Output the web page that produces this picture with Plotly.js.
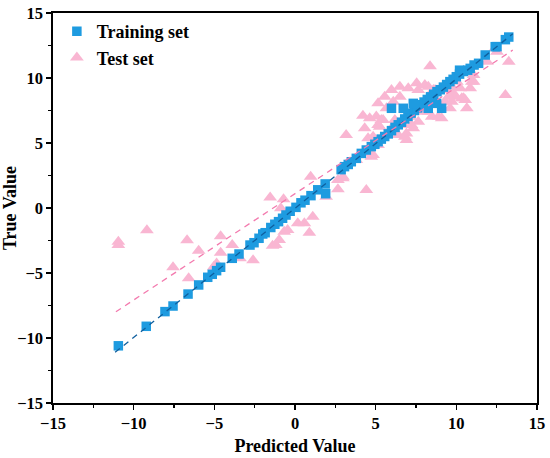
<!DOCTYPE html>
<html>
<head>
<meta charset="utf-8">
<script src="https://cdn.plot.ly/plotly-3.0.1.min.js"></script>
<style>html,body{margin:0;padding:0;background:#fff;}#chart{width:550px;height:458px;}</style>
</head>
<body>
<div id="chart"></div>
<script>
// Training set (predicted, true)
var trainX = [-10.95,-9.22,-8.06,-7.56,-6.63,-5.97,-5.41,-5.13,-4.86,-4.61,-3.89,-3.47,-2.79,-2.54,-2.23,-2.0,-1.85,-1.5,-1.25,-1.02,-0.77,-0.56,-0.3,0.06,0.37,0.62,0.99,1.41,1.87,2.86,3.07,3.3,3.49,3.8,4.11,4.42,4.73,4.95,5.15,5.35,5.56,5.78,5.98,6.2,6.4,6.6,6.8,7.0,7.2,7.4,7.6,7.8,8.0,8.2,8.4,8.6,8.8,9.0,9.2,9.4,9.6,9.8,10.0,10.2,10.45,10.7,10.86,11.1,11.38,11.79,12.41,12.52,13.04,13.25,5.98,6.71,7.33,8.26,9.09,8.78,10.2,1.9];
var trainY = [-10.6,-9.1,-7.97,-7.54,-6.62,-5.92,-5.33,-5.1,-4.82,-4.56,-3.87,-3.54,-2.85,-2.67,-2.33,-2.0,-1.9,-1.5,-1.25,-1.05,-0.79,-0.54,-0.25,0.05,0.4,0.6,0.95,1.4,1.85,2.95,3.18,3.35,3.56,3.82,4.2,4.46,4.72,4.9,5.1,5.3,5.5,5.7,5.95,6.2,6.4,6.6,6.85,7.05,7.3,7.5,7.7,7.95,8.15,8.35,8.55,8.75,8.95,9.1,9.3,9.5,9.72,9.9,10.1,10.3,10.5,10.6,10.74,11.0,11.13,11.77,12.41,12.41,12.95,13.15,7.67,7.67,8.05,7.67,7.67,8.05,10.6,1.1];

// Test set (predicted, true)
var testX = [-10.95,-10.95,-9.18,-6.69,-5.97,-7.56,-6.59,-4.61,-3.89,-4.61,-4.86,-5.03,-3.41,-2.6,-1.39,-1.19,-0.98,-0.67,-0.46,0.17,0.58,0.89,1.1,-0.88,-0.67,-1.54,-0.71,0.97,1.93,2.66,2.97,4.42,3.17,4.21,4.73,4.84,4.63,4.53,5.15,4.32,
 8.37,6.5,5.98,7.02,7.54,7.64,8.05,8.58,9.4,9.72,9.92,10.45,10.65,9.61,9.3,10.03,6.5,6.09,5.56,5.15,4.63,5.35,6.19,5.98,6.71,6.91,7.33,7.64,6.91,6.4,8.26,7.85,8.99,8.89,7.12,5.67,
 13.25,13.04,12.41,11.9,11.07,10.86,10.55,9.82,10.34,10.96,11.07,12.52,5.04,5.46,5.25,2.97,5.15,4.84,6.81,7.22,9.09,8.47,9.72,10.24,9.51,8.26,8.68,3.8,2.66];
var testY = [-2.59,-2.85,-1.72,-2.48,-3.28,-4.56,-5.41,-2.18,-2.85,-3.45,-4.26,-4.51,-3.87,-4.02,-2.9,-2.85,-2.46,-1.82,-1.69,-1.18,-1.18,-1.9,-0.67,-0.02,-0.54,0.8,0.68,2.41,0.87,1.45,2.28,1.38,5.62,7.1,3.95,4.08,4.2,5.36,6.38,6.13,
 10.9,9.33,9.08,9.21,9.59,9.08,9.46,9.08,9.08,9.33,8.56,8.44,7.67,7.67,8.18,9.72,8.56,8.18,8.56,8.05,6.9,6.77,6.77,6.13,6.38,5.74,6.13,6.64,5.23,5.62,7.41,7.41,7.92,7.02,7.02,7.67,
 11.25,8.69,12.28,11.25,9.72,9.21,8.31,8.82,8.44,9.72,10.23,12.02,7.03,6.77,6.25,2.41,4.85,5.48,5.48,6.38,6.9,7.02,8.18,9.21,8.56,9.33,9.08,3.69,2.15];

// Fit lines (endpoints)
var trainFitX = [-11.15, 13.5];
var trainFitY = [-11.1, 13.4];
var testFitX = [-11.1, 13.5];
var testFitY = [-7.98, 12.15];

var serif = 'Liberation Serif, Times New Roman, serif';

var traces = [
  {x: testX, y: testY, type: 'scatter', mode: 'markers', name: 'Test set', legendrank: 2,
   marker: {symbol: 'triangle-up', size: 12, color: '#f9b6d2', line: {width: 0}}},
  {x: trainX, y: trainY, type: 'scatter', mode: 'markers', name: 'Training set', legendrank: 1,
   marker: {symbol: 'square', size: 9.5, color: '#1e9be0', line: {width: 0}}},
  {x: trainFitX, y: trainFitY, type: 'scatter', mode: 'lines', showlegend: false,
   line: {color: '#0f5f9e', width: 1.3, dash: '6px,5px'}},
  {x: testFitX, y: testFitY, type: 'scatter', mode: 'lines', showlegend: false,
   line: {color: '#f37aae', width: 1.3, dash: '6px,5px'}}
];

var axisCommon = {
  range: [-15, 15], dtick: 5, tick0: -15,
  showgrid: false, zeroline: false,
  showline: true, linecolor: '#000', linewidth: 1.6, mirror: true,
  ticks: 'outside', ticklen: 5, tickwidth: 1.5, tickcolor: '#000',
  minor: {ticks: 'outside', dtick: 2.5, ticklen: 3, tickwidth: 1.2, tickcolor: '#000'},
  tickfont: {family: serif, size: 16.5, color: '#000', weight: 'bold'}
};

var layout = {
  width: 550, height: 458,
  margin: {l: 53, r: 13, t: 13, b: 55},
  paper_bgcolor: '#fff', plot_bgcolor: '#fff',
  font: {family: serif, color: '#000'},
  showlegend: true,
  legend: {x: 0.008, y: 1.0, xanchor: 'left', yanchor: 'top', bgcolor: 'rgba(0,0,0,0)',
           font: {family: serif, size: 18, color: '#000', weight: 'bold'}, itemwidth: 30, tracegroupgap: 6},
  xaxis: Object.assign({}, axisCommon, {title: {text: 'Predicted Value', standoff: 7,
           font: {family: serif, size: 18, color: '#000', weight: 'bold'}}}),
  yaxis: Object.assign({}, axisCommon, {title: {text: 'True Value', standoff: 5,
           font: {family: serif, size: 18, color: '#000', weight: 'bold'}}})
};

Plotly.newPlot('chart', traces, layout, {displayModeBar: false, staticPlot: true});
</script>
</body>
</html>
